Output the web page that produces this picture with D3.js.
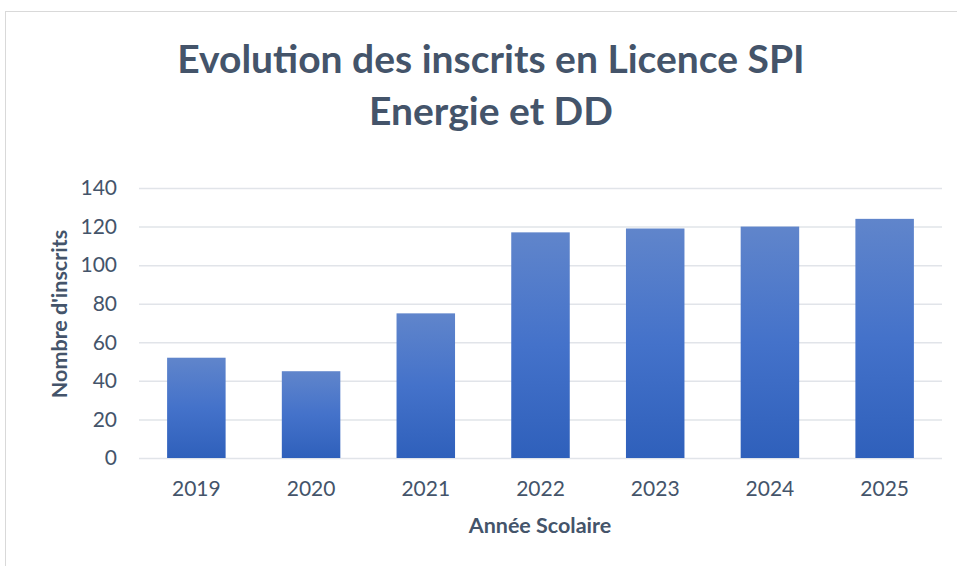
<!DOCTYPE html>
<html>
<head>
<meta charset="utf-8">
<script src="https://cdn.jsdelivr.net/npm/d3@7"></script>
<style>
  body { margin: 0; background: #fff; }
  svg { display: block; font-family: Lato, "Open Sans", sans-serif; }
</style>
</head>
<body>
<svg id="chart"></svg>
<script>
var years = ["2019", "2020", "2021", "2022", "2023", "2024", "2025"];
var inscrits = [52, 45, 75, 117, 119, 120, 124];
var yTicks = [0, 20, 40, 60, 80, 100, 120, 140];
var titleLines = ["Evolution des inscrits en Licence SPI", "Energie et DD"];

var width = 957, height = 566;
var margin = {top: 188, right: 15, bottom: 108, left: 139};
var textColor = "#44546A";

var svg = d3.select("#chart")
    .attr("width", width)
    .attr("height", height);

// cadre du graphique
svg.append("rect")
    .attr("x", 5.5).attr("y", 11.5)
    .attr("width", width + 10).attr("height", height + 10)
    .attr("fill", "none")
    .attr("stroke", "#D9D9D9");

var grad = svg.append("defs").append("linearGradient")
    .attr("id", "barGrad")
    .attr("x1", 0).attr("y1", 0).attr("x2", 0).attr("y2", 1);
grad.append("stop").attr("offset", "0%").attr("stop-color", "#6085CB");
grad.append("stop").attr("offset", "50%").attr("stop-color", "#4472CA");
grad.append("stop").attr("offset", "100%").attr("stop-color", "#2F60BB");

var x = d3.scaleBand()
    .domain(years)
    .range([margin.left, width - margin.right])
    .paddingInner(0.49)
    .paddingOuter(0.245);

var y = d3.scaleLinear()
    .domain([0, 140])
    .range([height - margin.bottom, margin.top]);

// lignes de grille
svg.append("g")
    .selectAll("line")
    .data(yTicks)
    .join("line")
    .attr("x1", margin.left)
    .attr("x2", width - margin.right)
    .attr("y1", d => y(d) + 0.5)
    .attr("y2", d => y(d) + 0.5)
    .attr("stroke", "#E1E4E9")
    .attr("stroke-width", 1.5);

// axe y
var yAxis = svg.append("g")
    .attr("transform", `translate(${margin.left}, 0)`)
    .call(d3.axisLeft(y).tickValues(yTicks).tickSize(0).tickPadding(22))
    .call(g => g.select(".domain").remove());
yAxis.selectAll("text")
    .attr("font-size", 21)
    .attr("fill", textColor)
    .attr("font-family", "Lato, 'Open Sans', sans-serif");

// barres
svg.append("g")
    .selectAll("rect")
    .data(inscrits)
    .join("rect")
    .attr("x", (d, i) => x(years[i]))
    .attr("y", d => y(d))
    .attr("width", x.bandwidth())
    .attr("height", d => y(0) - y(d))
    .attr("fill", "url(#barGrad)");

// axe x
var xAxis = svg.append("g")
    .attr("transform", `translate(0, ${height - margin.bottom})`)
    .call(d3.axisBottom(x).tickSize(0).tickPadding(23))
    .call(g => g.select(".domain").remove());
xAxis.selectAll("text")
    .attr("font-size", 21)
    .attr("fill", textColor)
    .attr("font-family", "Lato, 'Open Sans', sans-serif");

// titre
svg.append("g")
    .selectAll("text")
    .data(titleLines)
    .join("text")
    .attr("x", 491)
    .attr("y", (d, i) => 73 + i * 52)
    .attr("text-anchor", "middle")
    .attr("font-size", 39)
    .attr("font-weight", "bold")
    .attr("fill", textColor)
    .text(d => d);

// titres des axes
svg.append("text")
    .attr("x", 540)
    .attr("y", 533)
    .attr("text-anchor", "middle")
    .attr("font-size", 21.5)
    .attr("font-weight", "bold")
    .attr("fill", textColor)
    .text("Année Scolaire");

svg.append("text")
    .attr("transform", `translate(67, 314) rotate(-90)`)
    .attr("text-anchor", "middle")
    .attr("font-size", 21.5)
    .attr("font-weight", "bold")
    .attr("fill", textColor)
    .text("Nombre d'inscrits");
</script>
</body>
</html>
